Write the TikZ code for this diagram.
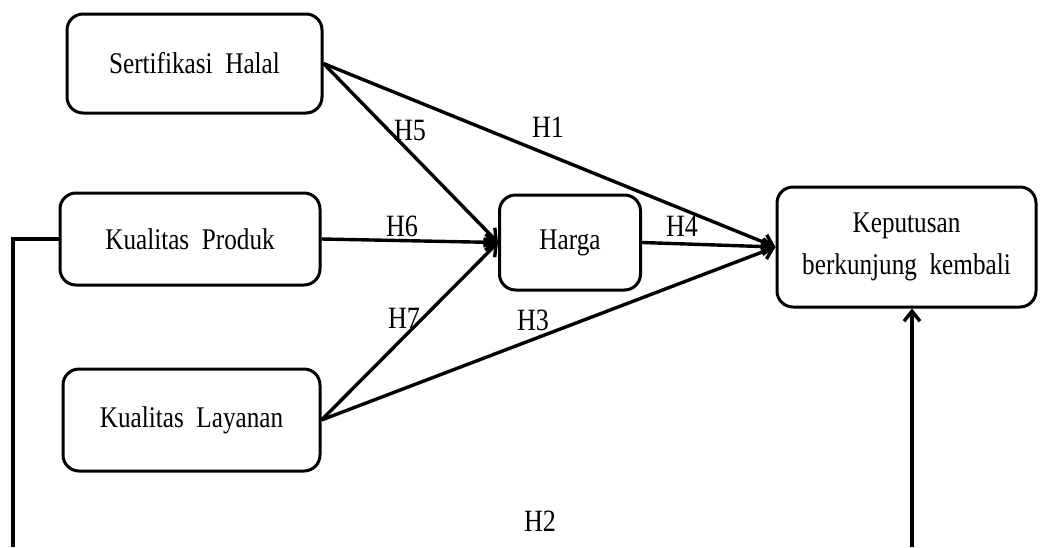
\documentclass[tikz,border=0pt]{standalone}
\usepackage{fontspec}
\setmainfont{Liberation Serif}[FakeStretch=0.84]
\usetikzlibrary{arrows.meta}
\begin{document}
\begin{tikzpicture}[x=0.5pt,y=-0.5pt,
 box/.style={draw, line width=1.5pt, rounded corners=8pt, align=center, inner sep=2pt, font=\fontsize{15}{21}\selectfont},
 conn/.style={line width=1.7pt, -{Straight Barb[length=5pt,width=8pt,line width=1.7pt]}},
 plain/.style={line width=1.7pt},
 lab/.style={font=\fontsize{15.5}{18}\selectfont, inner sep=0pt}]
\useasboundingbox (0,0) rectangle (1040,547);
\node[box, minimum width=127.5pt, minimum height=49.5pt] (s) at (194.5,63.5) {Sertifikasi\ \ Halal};
\node[box, minimum width=130pt, minimum height=46pt] (p) at (190,239) {\raisebox{-1.5pt}{Kualitas\ \ Produk}};
\node[box, minimum width=128.5pt, minimum height=51pt] (l) at (191.5,420) {Kualitas\ \ Layanan};
\node[box, minimum width=70.5pt, minimum height=47.5pt] (h) at (570,242.5) {Harga};
\node[box, minimum width=129.5pt, minimum height=60pt] (k) at (906.5,247) {\raisebox{-2pt}{Keputusan}\\\raisebox{-2pt}{berkunjung\ \ kembali}};
\coordinate (bl) at (13,547);
\coordinate (br) at (912,547);
\draw[conn] (s.east) -- (k.west);
\draw[conn] (s.east) -- (h.west);
\draw[conn] (p.east) -- (h.west);
\draw[conn] (l.east) -- (h.west);
\draw[conn] (l.east) -- (k.west);
\draw[conn] (h.east) -- (k.west);
\draw[plain] (p.west) -| (bl);
\draw[conn] (br) -- (br |- k.south);
\node[lab] (t1) at (548,127) {H1};
\node[lab] (t5) at (410,130) {H5};
\node[lab] (t6) at (402,226) {H6};
\node[lab] (t7) at (404,318) {H7};
\node[lab] (t3) at (533,320) {H3};
\node[lab] (t4) at (682,226) {H4};
\node[lab] (t2) at (540,521) {H2};
\end{tikzpicture}
\end{document}
